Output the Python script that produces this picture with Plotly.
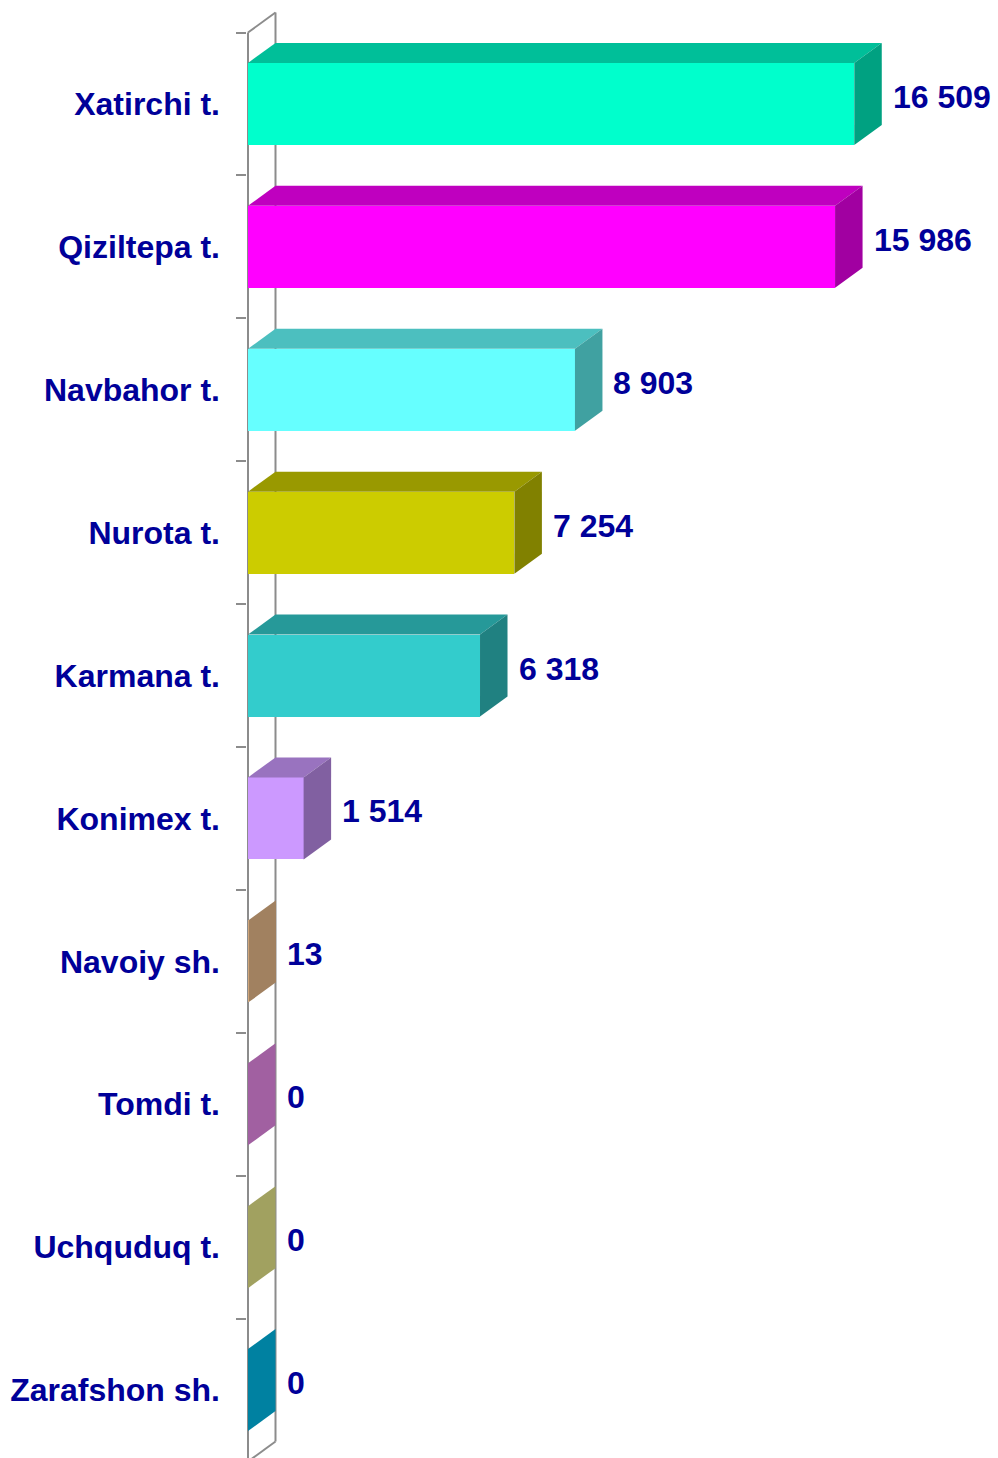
import plotly.graph_objects as go

# ---------------- data ----------------
categories = ["Xatirchi t.", "Qiziltepa t.", "Navbahor t.", "Nurota t.", "Karmana t.",
              "Konimex t.", "Navoiy sh.", "Tomdi t.", "Uchquduq t.", "Zarafshon sh."]
values = [16509, 15986, 8903, 7254, 6318, 1514, 13, 0, 0, 0]
front_colors = ["#00FFCC", "#FF00FF", "#66FFFF", "#CCCC00", "#33CCCC",
                "#CC99FF", "#FFCC99", "#FF99FF", "#FFFF99", "#00CCFF"]

# ---------------- geometry (pixels -> data units) ----------------
W, H = 998, 1458
LEFT_PX = 247          # plot area left edge
K = 27.23              # value units per pixel along x
PITCH = 142.9          # pixels per category
TOP_PX = 32.5          # pixel of first category boundary
DX_PX, DY_PX = 27.5, 20
HALF = 0.287           # half bar thickness (category units)

dx = DX_PX * K
dy = DY_PX / PITCH
y_top = -0.5 - TOP_PX / PITCH
y_bot = y_top + H / PITCH
x_min = -1 * K
x_max = (W - LEFT_PX - 1) * K

GREY = "#8C8C8C"
NAVY = "#000099"
FONT = "Liberation Sans, Arial, sans-serif"
FSIZE = 32


def shade(hexc, f):
    hexc = hexc.lstrip("#")
    r, g, b = (int(hexc[i:i + 2], 16) for i in (0, 2, 4))
    return "#%02X%02X%02X" % (round(r * f), round(g * f), round(b * f))


n = len(categories)
ypos = list(range(n))

fig = go.Figure()

# wall (front line, back line, top and bottom edges) drawn below all traces
y0, y1 = -0.5, n - 0.5
wall_segments = [
    (0, y0, 0, y1),
    (dx, y0 - dy, dx, y1 - dy),
    (0, y0, dx, y0 - dy),
    (0, y1, dx, y1 - dy),
]
for xa, ya, xb, yb in wall_segments:
    fig.add_shape(type="line", xref="x", yref="y", x0=xa, y0=ya, x1=xb, y1=yb,
                  line=dict(color=GREY, width=2), layer="below")

# top and side faces
for i, (v, c) in enumerate(zip(values, front_colors)):
    yc = ypos[i]
    # top face
    fig.add_trace(go.Scatter(
        x=[0, dx, v + dx, v, 0],
        y=[yc - HALF, yc - HALF - dy, yc - HALF - dy, yc - HALF, yc - HALF],
        fill="toself", fillcolor=shade(c, 0.75), mode="lines",
        line=dict(width=0, color=shade(c, 0.75)), hoverinfo="skip", showlegend=False))
    # side face
    fig.add_trace(go.Scatter(
        x=[v, v + dx, v + dx, v, v],
        y=[yc - HALF, yc - HALF - dy, yc + HALF - dy, yc + HALF, yc - HALF],
        fill="toself", fillcolor=shade(c, 0.63), mode="lines",
        line=dict(width=0, color=shade(c, 0.63)), hoverinfo="skip", showlegend=False))

# front faces
fig.add_trace(go.Bar(
    x=values, y=ypos, orientation="h", base=0, width=2 * HALF,
    marker=dict(color=front_colors, line=dict(width=0)),
    hoverinfo="skip", showlegend=False))

# value labels
for i, v in enumerate(values):
    fig.add_annotation(
        x=v + dx, y=ypos[i], xref="x", yref="y",
        text="<b>%s</b>" % f"{v:,}".replace(",", " "),
        showarrow=False, xanchor="left", yanchor="middle",
        xshift=9, yshift=7,
        font=dict(family=FONT, size=FSIZE, color=NAVY))

fig.update_layout(
    width=W, height=H,
    margin=dict(l=LEFT_PX, r=0, t=0, b=0, autoexpand=False),
    paper_bgcolor="white", plot_bgcolor="white",
    bargap=0,
    xaxis=dict(range=[x_min, x_max], visible=False, fixedrange=True),
    yaxis=dict(
        range=[y_bot, y_top], showgrid=False, zeroline=False, showline=False,
        tickmode="array", tickvals=ypos,
        ticktext=["<b>%s</b>" % c for c in categories],
        ticks="", ticklabelstandoff=26,
        tickfont=dict(family=FONT, size=FSIZE, color=NAVY),
        minor=dict(tickmode="array", tickvals=[k - 0.5 for k in range(n + 1)],
                   ticks="outside", ticklen=10, tickwidth=2, tickcolor=GREY,
                   showgrid=False),
        fixedrange=True),
)

fig.write_html("out.html")
